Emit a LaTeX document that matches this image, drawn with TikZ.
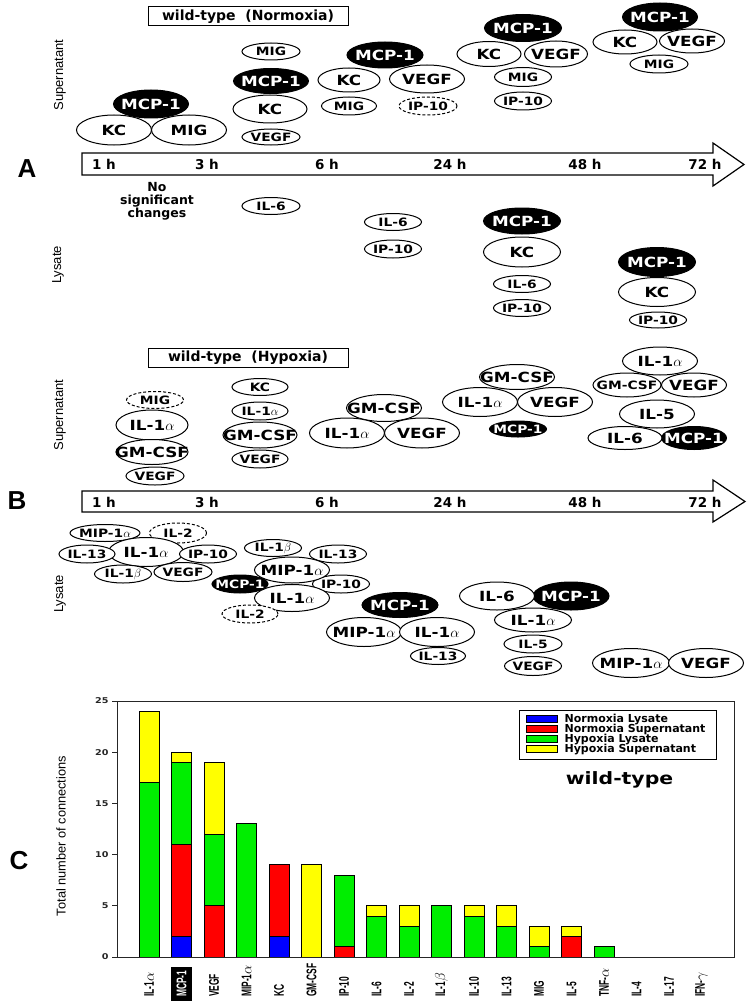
\documentclass[tikz,border=0pt]{standalone}
\usepackage{fontspec}
\setmainfont{DejaVu Sans}
\newfontfamily\cytfont{DejaVu Sans}[FakeStretch=1.2]
\newfontfamily\narrowfont{Liberation Sans}[FakeStretch=0.6]
\newfontfamily\armfont{Liberation Sans}
\usepackage{tikz}
\usetikzlibrary{shapes.geometric}
\definecolor{normLys}{HTML}{0000FF}
\definecolor{normSup}{HTML}{FF0000}
\definecolor{hypLys}{HTML}{00EE00}
\definecolor{hypSup}{HTML}{FFFF00}

\begin{document}
\begin{tikzpicture}[x=1pt, y=-1pt,
  cyt/.style={ellipse, draw, fill=white, line width=1pt, inner sep=0pt,
    execute at begin node={\hbox to 0pt\bgroup\hss},
    execute at end node={\hss\egroup}},
  sz/.style 2 args={minimum width=#1pt, minimum height=#2pt},
  bigcyt/.style={cyt, sz={75}{28}, font=\cytfont\bfseries\fontsize{14}{14}\selectfont},
  smallcyt/.style={cyt, sz={57}{18}, font=\cytfont\bfseries\fontsize{11.5}{11.5}\selectfont},
  dark/.style={fill=black, text=white},
  dashcyt/.style={dash pattern=on 3pt off 2pt},
  hour/.style={font=\bfseries\fontsize{13.5}{13.5}\selectfont},
  title/.style={draw, line width=1pt, minimum width=200pt, minimum height=19pt, inner sep=0pt,
    font=\bfseries\fontsize{14}{14}\selectfont},
  side/.style={rotate=90, font=\armfont\fontsize{13}{13}\selectfont},
  panel/.style={font=\armfont\bfseries\fontsize{26}{26}\selectfont},
  timeline/.style={draw, line width=1.2pt, fill=white},
  xlab/.style={rotate=90, anchor=west, inner sep=0pt, font=\narrowfont\bfseries\fontsize{14}{14}\selectfont},
  bar/.style={draw, line width=0.9pt}]
\useasboundingbox (0,0) rectangle (749,1006);

% ---------- panel A ----------
\node[panel] (lblA) at (27,169) {A};
\node[title] (titleA) at (248,16.5) {wild-type\ \ (Normoxia)};
\node[side] (supA) at (60,75) {Supernatant};
\node[side] (lysA) at (58,265) {Lysate};

\draw[timeline] (82,153) -- (713,153) -- (713,143) -- (744,164.5) -- (713,186) -- (713,175) -- (82,175) -- cycle;
\foreach \x/\t [count=\k] in {104/1 h, 207/3 h, 327/6 h, 450/24 h, 585/48 h, 705/72 h}
  \node[hour] (hA\k) at (\x,164) {\t};

% supernatant, normoxia
\node[bigcyt, dark] (a1mcp) at (151,104) {MCP-1};
\node[bigcyt, sz={75}{30}] (a1kc) at (114,130) {KC};
\node[bigcyt, sz={75}{30}] (a1mig) at (189,130) {MIG};

\node[smallcyt, sz={58}{17}] (a3mig) at (271,51.5) {MIG};
\node[bigcyt, dark, sz={75}{25}] (a3mcp) at (271,81) {MCP-1};
\node[bigcyt, sz={74}{28}] (a3kc) at (270,109) {KC};
\node[smallcyt, sz={58}{16}] (a3vegf) at (271,137) {VEGF};

\node[bigcyt, dark, sz={76}{26}] (a6mcp) at (385,55) {MCP-1};
\node[bigcyt, sz={62}{24}] (a6kc) at (349,80) {KC};
\node[bigcyt] (a6vegf) at (427,79) {VEGF};
\node[smallcyt, sz={55}{18}] (a6mig) at (349,106) {MIG};
\node[smallcyt, dashcyt, sz={58}{18}] (a6ip) at (428,106) {IP-10};

\node[bigcyt, dark, sz={77}{27}] (a24mcp) at (523,28) {MCP-1};
\node[bigcyt, sz={64}{25}] (a24kc) at (489,54) {KC};
\node[bigcyt, sz={63}{26}] (a24vegf) at (556,54) {VEGF};
\node[smallcyt, sz={57}{19}] (a24mig) at (523,77) {MIG};
\node[smallcyt] (a24ip) at (523,101) {IP-10};

\node[bigcyt, dark] (a72mcp) at (660,17) {MCP-1};
\node[bigcyt, sz={64}{24}] (a72kc) at (625,42) {KC};
\node[bigcyt, sz={65}{24}] (a72vegf) at (692,41) {VEGF};
\node[smallcyt, sz={58}{18}] (a72mig) at (659,64) {MIG};

% lysate, normoxia
\node[align=center, font=\bfseries\fontsize{12.5}{13}\selectfont] (nochange) at (157,201) {No\\significant\\changes};
\node[smallcyt, sz={58}{17}] (al3il6) at (271,206) {IL-6};
\node[smallcyt, sz={57}{17}] (al6il6) at (393,222) {IL-6};
\node[smallcyt] (al6ip) at (393,249) {IP-10};
\node[bigcyt, dark, sz={77}{26}] (al24mcp) at (522,221) {MCP-1};
\node[bigcyt, sz={77}{30}] (al24kc) at (522,252) {KC};
\node[smallcyt, sz={57}{17}] (al24il6) at (522,284) {IL-6};
\node[smallcyt, sz={57}{17}] (al24ip) at (522,308) {IP-10};
\node[bigcyt, dark, sz={77}{29}] (al72mcp) at (657,262) {MCP-1};
\node[bigcyt, sz={77}{29}] (al72kc) at (657,292) {KC};
\node[smallcyt, sz={57}{16}] (al72ip) at (658,320) {IP-10};

% ---------- panel B ----------
\node[panel] (lblB) at (17,501) {B};
\node[title] (titleB) at (248,357.5) {wild-type\ \ (Hypoxia)};
\node[side] (supB) at (60,415) {Supernatant};
\node[side] (lysB) at (60,594) {Lysate};

\draw[timeline] (82,491) -- (713,491) -- (713,480) -- (745,501.5) -- (713,522) -- (713,512) -- (82,512) -- cycle;
\foreach \x/\t [count=\k] in {104/1 h, 207/3 h, 327/6 h, 450/24 h, 585/48 h, 705/72 h}
  \node[hour] (hB\k) at (\x,502) {\t};

% supernatant, hypoxia
\node[smallcyt, dashcyt, sz={57}{17}] (b1mig) at (155,400) {MIG};
\node[bigcyt, sz={72}{30}] (b1il1a) at (152,425) {IL-1$\alpha$};
\node[bigcyt, sz={72}{25}] (b1gm) at (152,452) {GM-CSF};
\node[smallcyt, sz={58}{18}] (b1vegf) at (155,476) {VEGF};

\node[smallcyt, sz={56}{17}] (b3kc) at (260,387) {KC};
\node[smallcyt, sz={56}{18}] (b3il1a) at (260,411) {IL-1$\alpha$};
\node[bigcyt, sz={74}{26}] (b3gm) at (260,435) {GM-CSF};
\node[smallcyt, sz={56}{18}] (b3vegf) at (260,459) {VEGF};

\node[bigcyt, sz={75}{27}] (b6gm) at (384,408) {GM-CSF};
\node[bigcyt, sz={75}{30}] (b6il1a) at (347,433) {IL-1$\alpha$};
\node[bigcyt, sz={75}{30}] (b6vegf) at (422,433) {VEGF};

\node[bigcyt, sz={75}{25}] (b24gm) at (517,377) {GM-CSF};
\node[bigcyt, sz={75}{29}] (b24il1a) at (480,402) {IL-1$\alpha$};
\node[bigcyt, sz={75}{29}] (b24vegf) at (555,402) {VEGF};
\node[smallcyt, dark, sz={57}{16}] (b24mcp) at (518,429) {MCP-1};

\node[bigcyt, dark, sz={65}{23}] (b48mcp) at (694,438) {MCP-1};
\node[bigcyt] (b48il1a) at (660,361) {IL-1$\alpha$};
\node[smallcyt, sz={68}{24}] (b48gm) at (627,385) {GM-CSF};
\node[bigcyt, sz={65}{24}] (b48vegf) at (694,385) {VEGF};
\node[bigcyt] (b48il5) at (657,414) {IL-5};
\node[bigcyt, sz={74}{23}] (b48il6) at (625,438) {IL-6};

% lysate, hypoxia
\node[smallcyt, sz={70}{17}] (bl1mip) at (105,533) {MIP-1$\alpha$};
\node[smallcyt, dashcyt, sz={57}{20}] (bl1il2) at (178,533) {IL-2};
\node[bigcyt, sz={75}{29}] (bl1il1a) at (146,552) {IL-1$\alpha$};
\node[smallcyt, sz={56}{18}] (bl1il13) at (87,554) {IL-13};
\node[smallcyt] (bl1ip) at (208,554) {IP-10};
\node[smallcyt] (bl1il1b) at (123,574) {IL-1$\beta$};
\node[smallcyt, sz={58}{19}] (bl1vegf) at (183,572) {VEGF};

\node[smallcyt, dark, sz={56}{18}] (bl3mcp) at (240,584) {MCP-1};
\node[smallcyt, sz={57}{17}] (bl3il1b) at (273,548) {IL-1$\beta$};
\node[smallcyt] (bl3il13) at (338,554) {IL-13};
\node[smallcyt] (bl3ip) at (341,584) {IP-10};
\node[bigcyt, sz={75}{26}] (bl3mip) at (292,570) {MIP-1$\alpha$};
\node[bigcyt, sz={75}{27}] (bl3il1a) at (292,598) {IL-1$\alpha$};
\node[smallcyt, dashcyt, sz={56}{18}] (bl3il2) at (250,614) {IL-2};

\node[bigcyt, dark, sz={76}{25}] (bl6mcp) at (400,605) {MCP-1};
\node[bigcyt, sz={75}{29}] (bl6mip) at (364,632) {MIP-1$\alpha$};
\node[bigcyt, sz={75}{29}] (bl6il1a) at (437,632) {IL-1$\alpha$};
\node[smallcyt, sz={55}{17}] (bl6il13) at (438,656) {IL-13};

\node[bigcyt, dark, sz={76}{28}] (bl24mcp) at (571,596) {MCP-1};
\node[bigcyt] (bl24il6) at (497,596) {IL-6};
\node[bigcyt, sz={77}{24}] (bl24il1a) at (533,620) {IL-1$\alpha$};
\node[smallcyt, sz={58}{18}] (bl24il5) at (533,644) {IL-5};
\node[smallcyt, sz={57}{19}] (bl24vegf) at (533,666) {VEGF};

\node[bigcyt, sz={77}{29}] (bl72mip) at (631,663) {MIP-1$\alpha$};
\node[bigcyt, sz={75}{29}] (bl72vegf) at (706,663) {VEGF};

% ---------- panel C ----------
\node[panel] (lblC) at (19,861) {C};
\node[rotate=90, font=\armfont\fontsize{12.8}{12.8}\selectfont] (ylab) at (61,836) {Total number of connections};

\foreach \i/\lo/\hi/\c in {1/0/17/hypLys, 1/17/24/hypSup,
    2/0/2/normLys, 2/2/11/normSup, 2/11/19/hypLys, 2/19/20/hypSup,
    3/0/5/normSup, 3/5/12/hypLys, 3/12/19/hypSup,
    4/0/13/hypLys,
    5/0/2/normLys, 5/2/9/normSup,
    6/0/9/hypSup,
    7/0/1/normSup, 7/1/8/hypLys,
    8/0/4/hypLys, 8/4/5/hypSup,
    9/0/3/hypLys, 9/3/5/hypSup,
    10/0/5/hypLys,
    11/0/4/hypLys, 11/4/5/hypSup,
    12/0/3/hypLys, 12/3/5/hypSup,
    13/0/1/hypLys, 13/1/3/hypSup,
    14/0/2/normSup, 14/2/3/hypSup,
    15/0/1/hypLys}
  \draw[bar, fill=\c] ({139+32.5*(\i-1)},{957-10.24*\lo}) rectangle ({159+32.5*(\i-1)},{957-10.24*\hi});

\draw[line width=1pt, black!85] (117,701) rectangle (734,957);
\foreach \v in {0,5,...,25}
  \draw[line width=1pt, black!85] (117,{957-10.24*\v}) -- (112,{957-10.24*\v})
    node[anchor=east, inner sep=3pt, font=\cytfont\bfseries\fontsize{8}{8}\selectfont] {\v};

\foreach \i/\t in {1/IL-1$\alpha$, 3/VEGF, 4/MIP-1$\alpha$, 5/KC, 6/GM-CSF, 7/IP-10,
    8/IL-6, 9/IL-2, 10/IL-1$\beta$, 11/IL-10, 12/IL-13, 13/MIG, 14/IL-5,
    15/TNF-$\alpha$, 16/IL-4, 17/IL-17, 18/IFN-$\gamma$}
  \node[xlab] (x\i) at ({149+32.5*(\i-1)},997) {\t};
\node[xlab, fill=black, text=white, inner xsep=4pt, inner ysep=6pt] (x2) at (181.5,1001) {MCP-1};

% legend
\node[draw, line width=1pt, minimum width=197pt, minimum height=49pt] (legend) at (617.5,734.5) {};
\foreach \c/\t [count=\k] in {normLys/Normoxia Lysate, normSup/Normoxia Supernatant,
    hypLys/Hypoxia Lysate, hypSup/Hypoxia Supernatant}
  \node[draw, line width=0.8pt, fill=\c, minimum width=31pt, minimum height=7pt, inner sep=0pt,
    label={[anchor=west, inner sep=0pt, font=\bfseries\fontsize{11}{11}\selectfont]east:\hspace{7pt}\t}]
    (sw\k) at (541.5,{709+10*\k}) {};
\node[font=\cytfont\bfseries\fontsize{17}{17}\selectfont] (wt) at (619.5,780) {wild-type};
\end{tikzpicture}
\end{document}
